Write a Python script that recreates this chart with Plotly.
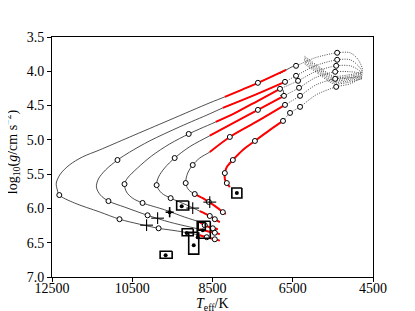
import plotly.graph_objects as go

# ---------------- evolutionary tracks (solid part) ----------------
t1_teff = [6668, 7368, 8193, 8568, 9568, 10568, 11318, 11743, 12068, 12293, 12393, 12368, 12318, 11943, 11318, 10818, 10318, 9843, 9368, 8818, 8643, 8443, 8318]
t1_logg = [3.978, 4.168, 4.373, 4.46, 4.71, 4.96, 5.148, 5.25, 5.367, 5.5, 5.63, 5.73, 5.805, 5.92, 6.05, 6.157, 6.23, 6.29, 6.33, 6.39, 6.42, 6.45, 6.47]
t2_teff = [6693, 7443, 8243, 8568, 9318, 10068, 10568, 10868, 11168, 11343, 11393, 11293, 11093, 10693, 10118, 9568, 9068, 8818, 8568, 8443, 8318]
t2_logg = [4.154, 4.344, 4.534, 4.62, 4.81, 5.016, 5.18, 5.294, 5.44, 5.57, 5.69, 5.805, 5.893, 5.98, 6.10, 6.2, 6.27, 6.303, 6.34, 6.355, 6.375]
t3_teff = [6818, 7368, 7943, 8418, 8818, 9093, 9568, 10018, 10368, 10618, 10693, 10643, 10493, 10243, 9693, 9193, 8818, 8693, 8493, 8368]
t3_logg = [4.256, 4.43, 4.61, 4.738, 4.84, 4.914, 5.06, 5.235, 5.41, 5.557, 5.645, 5.76, 5.85, 5.92, 6.02, 6.127, 6.2, 6.245, 6.29, 6.30]
t4_teff = [6718, 7368, 8068, 8568, 9068, 9443, 9693, 9843, 9893, 9768, 9543, 9143, 8818, 8568, 8443, 8318]
t4_logg = [4.358, 4.563, 4.782, 4.94, 5.1, 5.265, 5.41, 5.54, 5.66, 5.776, 5.85, 5.95, 6.04, 6.11, 6.157, 6.2]
t5_teff = [6693, 7368, 8068, 8568, 8818, 8993, 9118, 9168, 9093, 8943, 8743, 8593, 8368, 8243, 8168]
t5_logg = [4.49, 4.724, 4.958, 5.177, 5.265, 5.367, 5.484, 5.63, 5.73, 5.79, 5.85, 5.905, 5.995, 6.054, 6.08]
t6_teff = [6743, 7068, 7443, 7743, 7993, 8143, 8193, 8193, 8143, 8068]
t6_logg = [4.724, 4.855, 5.016, 5.148, 5.294, 5.396, 5.484, 5.57, 5.63, 5.69]

# small flash loops at the top of tracks 1 and 3
zig1_teff = [6518, 6818, 6668]
zig1_logg = [3.934, 4.03, 3.978]
hook3_teff = [6743, 6718, 6818]
hook3_logg = [4.27, 4.329, 4.358]

# ---------------- pre-WD (dotted) part ----------------
d1_teff = [6518, 6418, 5943, 5393, 5068, 4868, 4768, 5143, 5493, 5868, 6218]
d1_logg = [3.934, 3.92, 3.803, 3.73, 3.73, 3.832, 3.996, 4.055, 4.069, 3.923, 3.777]
d2_teff = [6693, 6418, 5943, 5393, 5068, 4868, 4768, 5143, 5493, 5868, 6218]
d2_logg = [4.154, 4.066, 3.92, 3.832, 3.832, 3.92, 4.018, 4.077, 4.091, 3.945, 3.799]
d3_teff = [6818, 6368, 5943, 5418, 5068, 4868, 4768, 5143, 5493, 5868, 6218]
d3_logg = [4.256, 4.139, 4.007, 3.92, 3.92, 3.978, 4.040, 4.099, 4.113, 3.967, 3.821]
d4_teff = [6718, 6343, 5943, 5443, 5068, 4868, 4768, 5143, 5493, 5868, 6218]
d4_logg = [4.358, 4.241, 4.095, 4.007, 4.007, 4.022, 4.062, 4.121, 4.135, 3.989, 3.843]
d5_teff = [6693, 6318, 5918, 5443, 5068, 4868, 4768, 5143, 5493, 5868, 6218]
d5_logg = [4.49, 4.358, 4.197, 4.11, 4.095, 4.08, 4.084, 4.143, 4.157, 4.011, 3.865]
d6_teff = [6743, 6568, 6318, 5918, 5418, 5068, 4868, 4768, 5143, 5493, 5868, 6218]
d6_logg = [4.724, 4.607, 4.519, 4.343, 4.227, 4.183, 4.124, 4.106, 4.165, 4.179, 4.033, 3.887]

# ---------------- age markers (open circles) ----------------
m_teff = [7368, 12318, 10818, 9843, 8643, 8443,
          6693, 10868, 11093, 10118, 8443,
          6818, 9093, 10693, 10243, 8693, 8493,
          6718, 7368, 9443, 9893, 9543, 8568, 8443,
          6693, 8068, 8993, 9168, 8943, 8593, 8243,
          6743, 7443, 7993, 8193, 8143,
          6418, 5393, 6418, 5393, 6368, 5418, 6343, 5443, 6318, 5443, 6568, 6318, 5418]
m_logg = [4.168, 5.805, 6.157, 6.29, 6.42, 6.45,
          4.154, 5.294, 5.893, 6.10, 6.355,
          4.256, 4.914, 5.645, 5.92, 6.245, 6.29,
          4.358, 4.563, 5.265, 5.66, 5.85, 6.11, 6.157,
          4.49, 4.958, 5.367, 5.63, 5.79, 5.905, 6.054,
          4.724, 5.016, 5.294, 5.484, 5.63,
          3.92, 3.73, 4.066, 3.832, 4.139, 3.92, 4.241, 4.007, 4.358, 4.11, 4.607, 4.519, 4.227]

# ---------------- observed objects ----------------
plus_teff = [10143, 9868, 8993, 8568]
plus_logg = [6.244, 6.142, 5.995, 5.908]
plus_dteff = [160, 160, 160, 160]
plus_dlogg = [0.085, 0.085, 0.085, 0.085]
bold_teff = [9568]
bold_logg = [6.055]
bold_dteff = [100]
bold_dlogg = [0.075]

box_teff = [9243, 9118, 8968, 8718, 9655, 7893, 8768]
box_logg = [5.957, 6.347, 6.507, 6.31, 6.675, 5.776, 6.259]
box_dteff = [150, 138, 125, 163, 150, 125, 88]
box_dlogg = [0.066, 0.051, 0.16, 0.124, 0.051, 0.073, 0.058]
dot_teff = [9268, 9143, 8968, 8743, 8868, 9668, 7893]
dot_logg = [5.97, 6.36, 6.536, 6.317, 6.42, 6.683, 5.776]

tracks = [
    (t1_teff, t1_logg, (0, 3), (19, None)),
    (t2_teff, t2_logg, (0, 3), (17, None)),
    (t3_teff, t3_logg, (0, 4), (16, None)),
    (t4_teff, t4_logg, (0, 4), (12, None)),
    (t5_teff, t5_logg, (0, 4), (9, None)),
    (t6_teff, t6_logg, (0, None), None),
]
dotted = [(d1_teff, d1_logg), (d2_teff, d2_logg), (d3_teff, d3_logg),
          (d4_teff, d4_logg), (d5_teff, d5_logg), (d6_teff, d6_logg)]

fig = go.Figure()

for dx, dy in dotted:
    fig.add_trace(go.Scatter(x=dx, y=dy, mode='lines',
                             line=dict(color='#111111', width=0.75, dash='1px,1.3px',
                                       shape='spline', smoothing=0.8),
                             hoverinfo='skip'))

for tx, ty, up, low in tracks:
    fig.add_trace(go.Scatter(x=tx, y=ty, mode='lines',
                             line=dict(color='#222222', width=0.8, shape='spline', smoothing=0.9),
                             hoverinfo='skip'))
for zx, zy in [(zig1_teff, zig1_logg), (hook3_teff, hook3_logg)]:
    fig.add_trace(go.Scatter(x=zx, y=zy, mode='lines',
                             line=dict(color='#222222', width=0.8), hoverinfo='skip'))

for tx, ty, up, low in tracks:
    for seg in (up, low):
        if seg is None:
            continue
        a, b = seg
        fig.add_trace(go.Scatter(x=tx[a:b], y=ty[a:b], mode='lines',
                                 line=dict(color='#ff0000', width=2, shape='spline', smoothing=0.9),
                                 hoverinfo='skip'))

fig.add_trace(go.Scatter(x=m_teff, y=m_logg, mode='markers',
                         marker=dict(symbol='circle', size=5, color='white',
                                     line=dict(color='black', width=1)),
                         hoverinfo='skip'))

fig.add_trace(go.Scatter(x=plus_teff, y=plus_logg, mode='markers',
                         marker=dict(size=1, color='rgba(0,0,0,0)'),
                         error_x=dict(type='data', array=plus_dteff, width=0, thickness=1.1, color='black'),
                         error_y=dict(type='data', array=plus_dlogg, width=0, thickness=1.1, color='black'),
                         hoverinfo='skip'))
fig.add_trace(go.Scatter(x=bold_teff, y=bold_logg, mode='markers',
                         marker=dict(size=4, color='black'),
                         error_x=dict(type='data', array=bold_dteff, width=0, thickness=1.6, color='black'),
                         error_y=dict(type='data', array=bold_dlogg, width=0, thickness=1.6, color='black'),
                         hoverinfo='skip'))

for bt, bg, bdt, bdg in zip(box_teff, box_logg, box_dteff, box_dlogg):
    fig.add_trace(go.Scatter(x=[bt - bdt, bt + bdt, bt + bdt, bt - bdt, bt - bdt],
                             y=[bg - bdg, bg - bdg, bg + bdg, bg + bdg, bg - bdg],
                             mode='lines', line=dict(color='black', width=1.6),
                             hoverinfo='skip'))
fig.add_trace(go.Scatter(x=dot_teff, y=dot_logg, mode='markers',
                         marker=dict(size=4, color='black'), hoverinfo='skip'))

x_ticks = [12500, 10500, 8500, 6500, 4500]
y_ticks = [3.5, 4.0, 4.5, 5.0, 5.5, 6.0, 6.5, 7.0]

axis_style = dict(showline=True, mirror=True, linecolor='black', linewidth=1,
                  ticks='outside', ticklen=4, tickwidth=1, tickcolor='black',
                  showgrid=False, zeroline=False, automargin=False)

# the page body adds an 8px offset, so the figure is 8px smaller than the window
fig.update_layout(
    width=407, height=303,
    margin=dict(l=44, r=42, t=29, b=34),
    plot_bgcolor='white', paper_bgcolor='white',
    showlegend=False,
    font=dict(family='Liberation Serif', size=14, color='black'),
    xaxis=dict(range=[12500, 4500], tickvals=x_ticks, ticktext=[str(v) for v in x_ticks],
               ticklabelstandoff=-6, **axis_style),
    yaxis=dict(range=[7.0, 3.5], tickvals=y_ticks, ticktext=['%.1f' % v for v in y_ticks],
               **axis_style),
    annotations=[
        dict(text='<i>T</i><sub>eff</sub>/K', xref='paper', yref='paper', x=0.5, y=0,
             xanchor='center', yanchor='top', yshift=-17, showarrow=False,
             font=dict(size=14)),
        dict(text='log<sub>10</sub>(<i>g</i>/cm s<sup>−2</sup>)', xref='paper', yref='paper',
             x=0, y=0.52, xanchor='right', yanchor='middle', xshift=-28, textangle=-90,
             showarrow=False, font=dict(size=14)),
    ],
)

fig.write_html("out.html")
